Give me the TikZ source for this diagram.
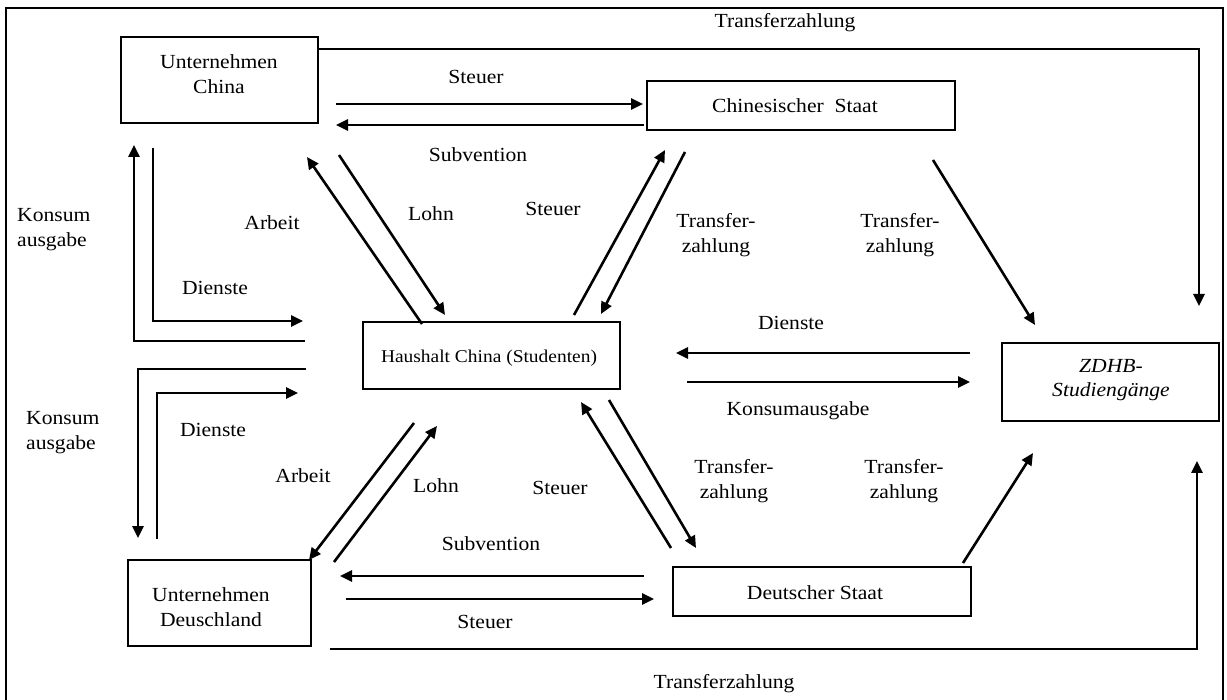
\documentclass[tikz,border=0pt]{standalone}
\usepackage{fontspec}
\setmainfont{Liberation Serif}[FakeStretch=1.08]
\usetikzlibrary{arrows.meta}
\begin{document}
\begin{tikzpicture}[x=1pt,y=-1pt,
  flow/.style={line width=2.6pt, -{Triangle[length=12pt,width=11pt]}},
  frame/.style={line width=2.8pt},
  box/.style={draw, line width=2.8pt, inner sep=0pt},
  lbl/.style={font=\fontsize{20}{25}\selectfont, align=center, inner sep=0pt},
  small/.style={font=\fontsize{18}{21}\selectfont, inner sep=0pt},
]
\useasboundingbox (0,0) rectangle (1227,700);
% outer frame
\draw[frame] (6,702) -- (6,8) -- (1223,8) -- (1223,702);

% boxes
\node[box, minimum width=197pt, minimum height=86pt] (uc) at (219.5,80) {};
\node[lbl] (uctxt) at (219,74) {Unternehmen\\China};
\node[box, minimum width=308pt, minimum height=49pt] (cs) at (801,105.5) {};
\node[lbl] (cstxt) at (795,106) {Chinesischer\ \ Staat};
\node[box, minimum width=257pt, minimum height=67pt] (hh) at (491.5,355.5) {};
\node[small] (hhtxt) at (489,358) {Haushalt China (Studenten)};
\node[box, minimum width=217pt, minimum height=78pt] (zd) at (1110.5,382) {};
\node[lbl, font=\fontsize{20}{24}\selectfont\itshape] (zdtxt) at (1111,380) {ZDHB-\\Studiengänge};
\node[box, minimum width=183pt, minimum height=86pt] (ud) at (219.5,603) {};
\node[lbl] (udtxt) at (211,607) {Unternehmen\\Deuschland};
\node[box, minimum width=298pt, minimum height=49pt] (ds) at (822,591.5) {};
\node[lbl] (dstxt) at (815,593) {Deutscher Staat};

% connector end points
\coordinate (tfA) at (318,49);   \coordinate (tfAe) at (1199,306);
\coordinate (stA) at (336,104);  \coordinate (stAe) at (643,104);
\coordinate (svA) at (644,125);  \coordinate (svAe) at (336,125);
\coordinate (arA) at (422,324);  \coordinate (arAe) at (307,157);
\coordinate (loA) at (339,155);  \coordinate (loAe) at (445,315);
\coordinate (stB) at (574,315);  \coordinate (stBe) at (665,150);
\coordinate (tfB) at (685,152);  \coordinate (tfBe) at (601,314);
\coordinate (tfC) at (933,160);  \coordinate (tfCe) at (1035,325);
\coordinate (kaA) at (305,341);  \coordinate (kaAe) at (134,145);
\coordinate (diA) at (153,148);  \coordinate (diAe) at (303,321);
\coordinate (diB) at (970,353);  \coordinate (diBe) at (676,353);
\coordinate (kaB) at (687,382);  \coordinate (kaBe) at (970,382);
\coordinate (kaC) at (306,369);  \coordinate (kaCe) at (138,538);
\coordinate (diC) at (157,539);  \coordinate (diCe) at (298,393);
\coordinate (arB) at (414,423);  \coordinate (arBe) at (309,560);
\coordinate (loB) at (334,562);  \coordinate (loBe) at (437,426);
\coordinate (stC) at (671,548);  \coordinate (stCe) at (581,402);
\coordinate (tfD) at (609,400);  \coordinate (tfDe) at (696,548);
\coordinate (tfE) at (963,563);  \coordinate (tfEe) at (1033,453);
\coordinate (svB) at (644,576);  \coordinate (svBe) at (340,576);
\coordinate (stD) at (346,599);  \coordinate (stDe) at (654,599);
\coordinate (tfF) at (330,649);  \coordinate (tfFe) at (1197,461);

% flows
\draw[flow] (tfA) -| (tfAe);
\draw[flow] (stA) -- (stAe);
\draw[flow] (svA) -- (svAe);
\draw[flow] (arA) -- (arAe);
\draw[flow] (loA) -- (loAe);
\draw[flow] (stB) -- (stBe);
\draw[flow] (tfB) -- (tfBe);
\draw[flow] (tfC) -- (tfCe);
\draw[flow] (kaA) -| (kaAe);
\draw[flow] (diA) |- (diAe);
\draw[flow] (diB) -- (diBe);
\draw[flow] (kaB) -- (kaBe);
\draw[flow] (kaC) -| (kaCe);
\draw[flow] (diC) |- (diCe);
\draw[flow] (arB) -- (arBe);
\draw[flow] (loB) -- (loBe);
\draw[flow] (stC) -- (stCe);
\draw[flow] (tfD) -- (tfDe);
\draw[flow] (tfE) -- (tfEe);
\draw[flow] (svB) -- (svBe);
\draw[flow] (stD) -- (stDe);
\draw[flow] (tfF) -| (tfFe);

% flow labels
\node[lbl] (l1) at (785,23) {Transferzahlung};
\node[lbl] (l2) at (476,77) {Steuer};
\node[lbl] (l3) at (478,155) {Subvention};
\node[lbl] (l4) at (272,223) {Arbeit};
\node[lbl] (l5) at (431,214) {Lohn};
\node[lbl] (l6) at (553,209) {Steuer};
\node[lbl] (l7) at (716,235) {Transfer-\\zahlung};
\node[lbl] (l8) at (900,235) {Transfer-\\zahlung};
\node[lbl, align=left, anchor=west] (l9) at (17,230) {Konsum\\ausgabe};
\node[lbl] (l10) at (215,288) {Dienste};
\node[lbl] (l11) at (791,323) {Dienste};
\node[lbl] (l12) at (798,411) {Konsumausgabe};
\node[lbl, align=left, anchor=west] (l13) at (26,433) {Konsum\\ausgabe};
\node[lbl] (l14) at (213,430) {Dienste};
\node[lbl] (l15) at (303,476) {Arbeit};
\node[lbl] (l16) at (436,486) {Lohn};
\node[lbl] (l17) at (560,488) {Steuer};
\node[lbl] (l18) at (734,481) {Transfer-\\zahlung};
\node[lbl] (l19) at (904,481) {Transfer-\\zahlung};
\node[lbl] (l20) at (491,544) {Subvention};
\node[lbl] (l21) at (485,622) {Steuer};
\node[lbl] (l22) at (724,684) {Transferzahlung};
\end{tikzpicture}
\end{document}
